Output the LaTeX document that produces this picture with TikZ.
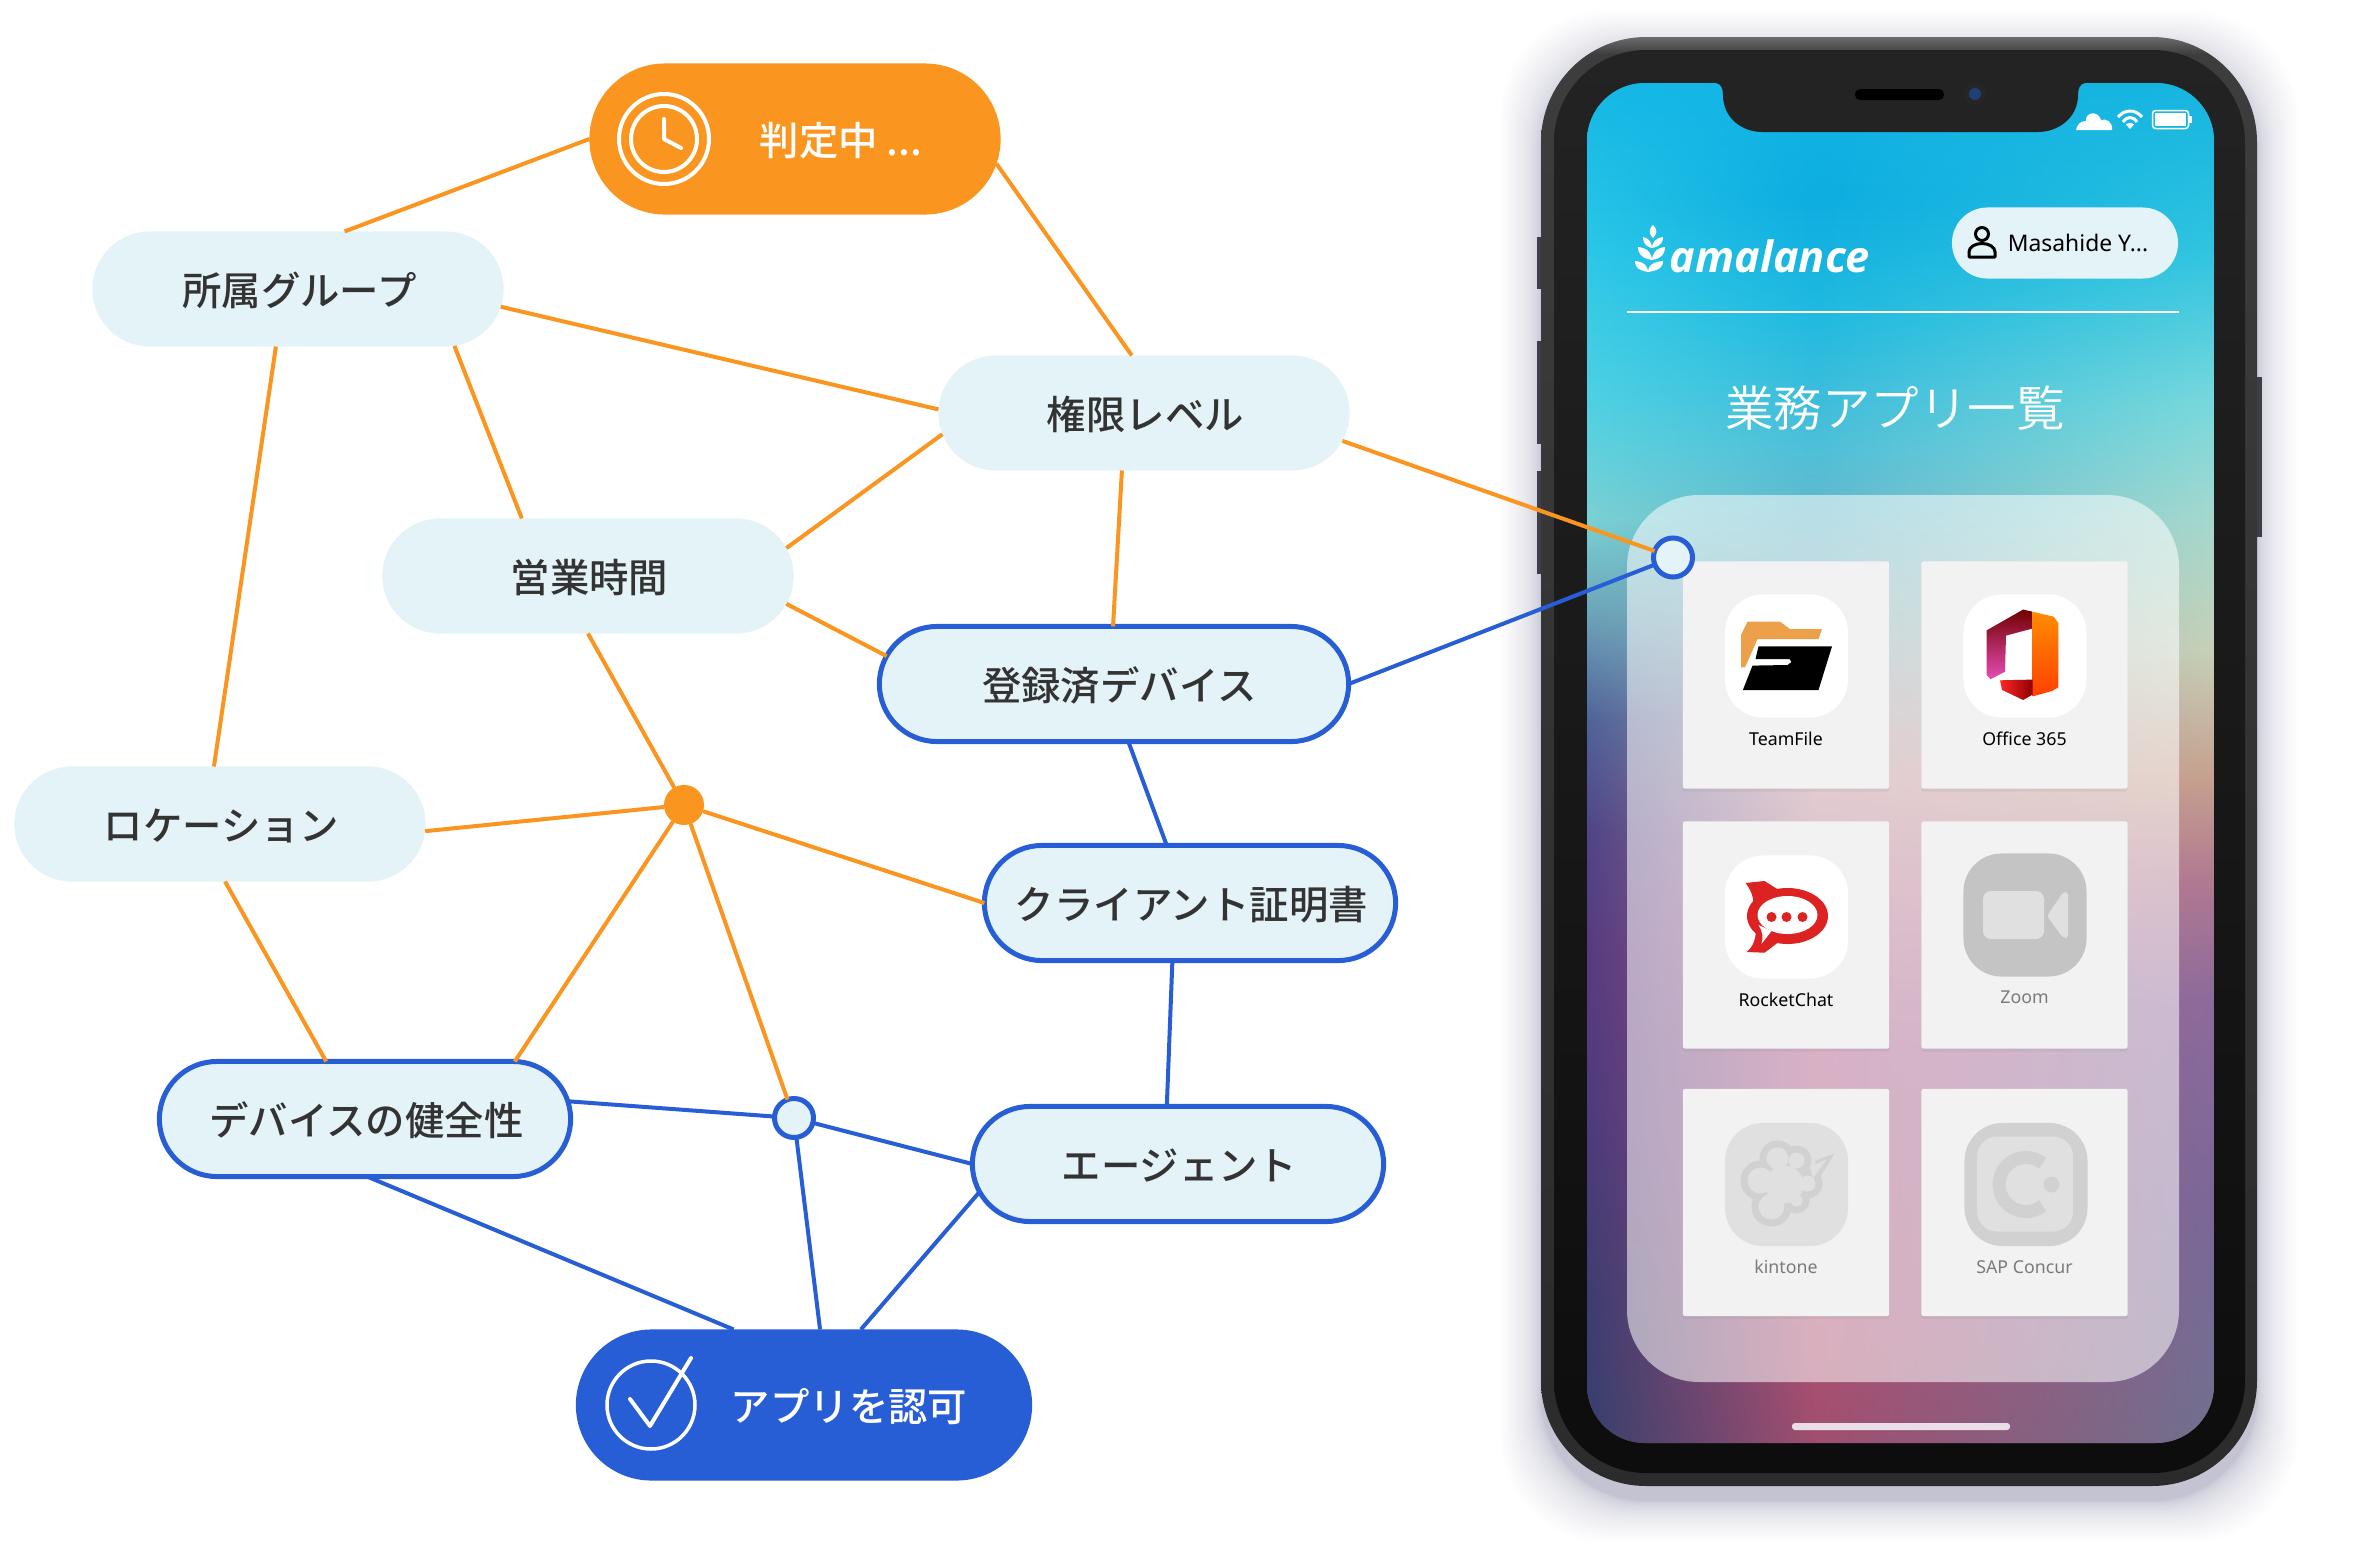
\documentclass[tikz,border=0pt]{standalone}
\usepackage{fontspec}
\setmainfont{Noto Sans}
\newfontfamily\jpfont{Noto Sans CJK JP Medium}
\newfontfamily\jplight{Noto Sans CJK JP DemiLight}
\newfontfamily\logofont{Open Sans}
\usetikzlibrary{shapes.misc,fadings,shadows}

\definecolor{pillorange}{HTML}{FA9520}
\definecolor{pillblue}{HTML}{275DD5}
\definecolor{pilllight}{HTML}{E4F3F8}
\definecolor{pilltext}{HTML}{333333}
\definecolor{bezeltop}{HTML}{232323}
\definecolor{bezellow}{HTML}{0D0D0D}
\definecolor{tilegray}{HTML}{F2F2F2}
\definecolor{sidegray}{HTML}{3E3E48}
\definecolor{folderorange}{HTML}{EDA04A}
\definecolor{rocketred}{HTML}{DD2222}
\definecolor{homebar}{HTML}{EADFE8}
\definecolor{cameralens}{HTML}{1F3F78}

\pgfdeclareverticalshading{screenmid}{100bp}{rgb(0bp)=(.63,.31,.44); rgb(25bp)=(.63,.31,.44); rgb(28.4bp)=(.68,.31,.44); rgb(39.5bp)=(.67,.33,.51); rgb(49.4bp)=(.75,.56,.60); rgb(56bp)=(.49,.68,.72); rgb(61.5bp)=(.31,.75,.85); rgb(66.3bp)=(.13,.73,.88); rgb(70.7bp)=(.05,.68,.88); rgb(75bp)=(.07,.71,.90); rgb(100bp)=(.07,.71,.90)}
\pgfdeclareverticalshading{screenleft}{100bp}{rgb(0bp)=(.21,.25,.43); rgb(25bp)=(.21,.25,.43); rgb(30.3bp)=(.24,.24,.44); rgb(37.6bp)=(.31,.23,.49); rgb(43.1bp)=(.34,.23,.50); rgb(47.5bp)=(.31,.27,.53); rgb(51.6bp)=(.31,.39,.60); rgb(55.3bp)=(.42,.63,.72); rgb(59bp)=(.48,.82,.83); rgb(63.3bp)=(.31,.82,.89); rgb(68.9bp)=(.17,.78,.91); rgb(75bp)=(.08,.72,.90); rgb(100bp)=(.08,.72,.90)}
\pgfdeclareverticalshading{screenright}{100bp}{rgb(0bp)=(.44,.44,.56); rgb(25bp)=(.44,.44,.56); rgb(33.9bp)=(.48,.41,.60); rgb(41.3bp)=(.55,.42,.61); rgb(45.7bp)=(.69,.48,.57); rgb(49.4bp)=(.78,.63,.56); rgb(54.2bp)=(.78,.82,.72); rgb(59bp)=(.65,.85,.81); rgb(63.3bp)=(.47,.85,.86); rgb(68.9bp)=(.19,.77,.88); rgb(75bp)=(.09,.71,.88); rgb(100bp)=(.09,.71,.88)}
\pgfdeclareverticalshading{phonebody}{100bp}{rgb(0bp)=(.17,.17,.17); rgb(25bp)=(.17,.17,.17); rgb(50bp)=(.20,.20,.20); rgb(74.4bp)=(.24,.24,.24); rgb(75bp)=(.42,.42,.42); rgb(100bp)=(.42,.42,.42)}
\tikzfading[name=fadetoright, left color=transparent!0, right color=transparent!100]
\tikzfading[name=fadetoleft, left color=transparent!100, right color=transparent!0]

\tikzset{
  pill/.style={rounded rectangle, minimum width=4.11cm, minimum height=1.15cm,
    inner sep=0pt, outer sep=0pt, fill=pilllight, text=pilltext, text height=11.5pt, text depth=2pt,
    font=\jpfont\fontsize{11.2}{13}\selectfont, execute at begin node=\hspace*{0.8pt}},
  pillring/.style={pill, draw=pillblue, line width=0.05cm},
  statuspill/.style={pill, minimum height=1.51cm, text=white},
  pilllabel/.style={text=white, inner sep=0pt, text height=11.5pt, text depth=2pt, font=\jpfont\fontsize{11.2}{13}\selectfont},
  hubdot/.style={circle, inner sep=0pt, outer sep=0pt, minimum size=0.4cm, fill=pillorange},
  hubring/.style={circle, inner sep=0pt, outer sep=0pt, minimum size=0.39cm, fill=pilllight, draw=pillblue, line width=0.05cm},
  orangeline/.style={draw=pillorange, line width=0.04cm},
  blueline/.style={draw=pillblue, line width=0.04cm},
  whiteline/.style={draw=white, line width=0.04cm, line cap=round, line join=round},
  tile/.style={rectangle, minimum width=2.06cm, minimum height=2.27cm, inner sep=0pt, rounded corners=0.02cm,
    fill=tilegray, drop shadow={shadow xshift=0cm, shadow yshift=-0.03cm, opacity=0.12}},
  iconbox/.style={rectangle, minimum size=1.23cm, inner sep=0pt, rounded corners=0.38cm, fill=white},
  applabel/.style={inner sep=0pt, text=black, font=\fontsize{5.05}{6}\selectfont},
  applabeloff/.style={applabel, text=black!52},
}

\begin{document}
\begin{tikzpicture}[x=0.01cm,y=-0.01cm]
  \useasboundingbox (0,0) rectangle (2368,1554);

  % phone
  \foreach \g in {1,...,30}
    \fill[black!75!blue, opacity=0.008, rounded corners=1.05cm]
      ({1541-\g*\g*0.045},{52-\g*\g*0.045}) rectangle ({2257+\g*\g*0.045},{1501+\g*\g*0.045});
  \fill[sidegray] (1537,237) rectangle (1545,289);
  \fill[sidegray] (1537,341) rectangle (1545,444);
  \fill[sidegray] (1537,471) rectangle (1545,574);
  \fill[sidegray] (2253,377) rectangle (2262,537);
  \shade[shading=phonebody, rounded corners=1.05cm] (1541,37) rectangle (2257,1486);
  \shade[top color=bezeltop, bottom color=bezellow, rounded corners=0.92cm] (1554,50) rectangle (2245,1473);
  \begin{scope}
    \clip[rounded corners=0.58cm] (1587,83) rectangle (2214,1443);
    \shade[shading=screenmid] (1587,83) rectangle (2214,1443);
    \shade[shading=screenleft, path fading=fadetoright] (1587,83) rectangle (1815,1443);
    \shade[shading=screenright, path fading=fadetoleft] (1815,83) rectangle (2214,1443);
  \end{scope}
  \fill[bezeltop] (1716,83) .. controls (1721,84) and (1723,88) .. (1723,95)
    .. controls (1723,118) and (1742,132) .. (1762,132) -- (2038,132)
    .. controls (2058,132) and (2078,118) .. (2078,95)
    .. controls (2078,88) and (2080,84) .. (2085,83) -- cycle;
  \fill[black, rounded corners=0.05cm] (1855,89) rectangle (1944,100);
  \fill[black!85] (1975,94) circle (11);
  \fill[cameralens] (1975,94) circle (6);
  \fill[homebar, rounded corners=0.03cm] (1792,1423) rectangle (2010,1430);

  % status bar
  \fill[white] (2076,130) -- (2112,130) .. controls (2113,122) and (2106,118) .. (2101,120)
    .. controls (2098,110) and (2085,112) .. (2086,121) .. controls (2080,121) and (2077,125) .. (2076,130) -- cycle;
  \draw[white, line width=0.03cm] (2118,117) .. controls (2125,109) and (2135,109) .. (2142,117);
  \draw[white, line width=0.03cm] (2123,122) .. controls (2127,116) and (2133,116) .. (2137,122);
  \fill[white] (2130,129) -- (2126,124.5) .. controls (2128,122.5) and (2132,122.5) .. (2134,124.5) -- cycle;
  \draw[white, line width=0.015cm, rounded corners=0.03cm] (2152.5,110.5) rectangle (2188.5,128.5);
  \fill[white] (2155,113) rectangle (2186,126);
  \fill[white] (2189,116) rectangle (2192,123);

  % logo and user
  \fill[white] (1653,225) .. controls (1658,230) and (1657,234) .. (1653,238) .. controls (1649,234) and (1648,230) .. (1653,225) -- cycle;
  \foreach \bx/\by/\lx/\rx/\ty in {1652/248/1643/1663/237,1652/260/1638/1665/247,1648/272/1635/1663/261}{
    \fill[white] (\bx,\by) .. controls ({\lx+1},{\by-2}) and (\lx,{\ty+4}) .. (\lx,\ty)
      .. controls ({\bx-3},{\ty+1}) and (\bx,{\by-5}) .. (\bx,\by) -- cycle;
    \fill[white] (\bx,\by) .. controls ({\rx-1},{\by-2}) and (\rx,{\ty+4}) .. (\rx,\ty)
      .. controls ({\bx+3},{\ty+1}) and (\bx,{\by-5}) .. (\bx,\by) -- cycle;
  }
  \node[inner sep=0pt, text=white, font=\logofont\bfseries\itshape\fontsize{12.3}{15}\selectfont] (logo) at (1770,256) {amalance};
  \node[rounded rectangle, minimum width=2.26cm, minimum height=0.71cm, inner sep=0pt, fill=pilllight] (userchip) at (2065,243) {};
  \draw[black, line width=0.03cm] (1982,234) circle (6.5);
  \draw[black, line width=0.03cm, line join=round] (1969,257) -- (1969,252) .. controls (1969,247) and (1975,243.5) .. (1982,243.5)
    .. controls (1989,243.5) and (1995,247) .. (1995,252) -- (1995,257) -- cycle;
  \node[inner sep=0pt, text=black, font=\fontsize{6.5}{8}\selectfont] (username) at (2078,243) {Masahide Y...};
  \draw[white, line width=0.025cm] (1627,312) -- (2179,312);
  \node[inner sep=0pt, text=white, font=\jplight\fontsize{13.8}{16}\selectfont] (listtitle) at (1895,408) {業務アプリ一覧};

  % app panel
  \fill[white, opacity=0.55, rounded corners=0.72cm] (1627,495) rectangle (2179,1382);
  \node[tile] (teamtile) at (1786,675) {};
  \node[tile] (officetile) at (2024.5,675) {};
  \node[tile] (rockettile) at (1786,935) {};
  \node[tile] (zoomtile) at (2024.5,935) {};
  \node[tile] (kintile) at (1786,1202.5) {};
  \node[tile] (saptile) at (2024.5,1202.5) {};
  \node[iconbox] (teamicon) at (1786.5,656) {};
  \node[iconbox] (officeicon) at (2025,656) {};
  \node[iconbox] (rocketicon) at (1786.5,917) {};
  \node[iconbox, fill=black!23] (zoomicon) at (2025,915) {};
  \node[iconbox, fill=black!12] (kinicon) at (1786.5,1184.5) {};
  \node[iconbox, fill=black!18] (sapicon) at (2026,1184.5) {};
  \node[applabel] (teamname) at (1786,739) {TeamFile};
  \node[applabel] (officename) at (2024.5,739) {Office 365};
  \node[applabel] (rocketname) at (1786,999.5) {RocketChat};
  \node[applabeloff] (zoomname) at (2024.5,997.5) {Zoom};
  \node[applabeloff] (kinname) at (1786,1267) {kintone};
  \node[applabeloff] (sapname) at (2024.5,1267) {SAP Concur};

  \begin{scope}[shift={(1786.5,656)}]
    \fill[folderorange] (-45.5,-21) -- (-39,-34.3) -- (-6.5,-34.3) -- (3.8,-26.8) -- (35.4,-26.8) -- (32,-17)
      -- (-29,-17) -- (-41.5,11.4) -- (-45.5,11.4) -- cycle;
    \fill[black] (-28,-9.6) -- (45.5,-9.6) -- (32,34) -- (-43.6,34) -- (-34,9.6) -- (1,9) -- (5,6) -- (3,3) -- (-31,3) -- cycle;
  \end{scope}
  \begin{scope}[shift={(2025,656)}]
    \shade[top color=red!45!black, middle color=red!70!black, bottom color=magenta!45!purple!70!white, line join=round]
      (-38.3,-25.7) -- (-1.9,-46.4) -- (7.6,-44.3) -- (7.6,-27.5) -- (-19,-20.4) -- (-20,15.7) -- (-34.4,23.2) -- (-38.3,19) -- cycle;
    \shade[top color=orange!90!yellow, middle color=orange!60!red, bottom color=orange!50!red]
      (7.6,-44.3) -- (28.7,-39.3) -- (33.3,-33) -- (33.3,31.4) -- (27,35) -- (7.6,40.4) -- cycle;
    \shade[left color=red!80!pink, right color=red!55!black]
      (-24.9,24.3) -- (7.6,23.6) -- (7.6,38.6) -- (-1.9,44) -- (-23,33.9) -- cycle;
  \end{scope}
  \begin{scope}[shift={(1786.5,917)}]
    \fill[rocketred] (-41,-34) -- (-22,-36) -- (-8.5,-27.5) -- (-33,-13) .. controls (-33,-20) and (-36,-28) .. (-41,-34) -- cycle;
    \fill[rocketred] (-40,35) -- (-22,35.7) -- (-6.5,24) -- (-31,12) .. controls (-30,20) and (-33,30) .. (-40,35) -- cycle;
    \fill[rocketred] (1,-1) ellipse (40.5 and 28);
    \fill[white] (1,-2) ellipse (30 and 19);
    \fill[white] (-28,8) -- (-15,14) -- (-25,27) .. controls (-23,20) and (-24,14) .. (-28,8) -- cycle;
    \fill[rocketred] (-15,0) circle (5) (0,0) circle (5) (16,0) circle (5);
  \end{scope}
  \begin{scope}[shift={(2025,915)}]
    \fill[black!12, rounded corners=0.08cm] (-42,-24) rectangle (19,24);
    \fill[black!12, rounded corners=0.03cm] (22,1) -- (38.3,-23) -- (43,-23) -- (43,23) -- (38.3,23) -- cycle;
  \end{scope}
  \begin{scope}[shift={(1786.5,1184.5)}]
    \fill[black!18] (29,-24) -- (48,-31) -- (28,2) -- cycle;
    \foreach \cx/\cy/\cr in {-9/-26/18,10/-24/15,-26/-4/20,-15/22/20,10/16/13,21/-1/15,-2/0/26}
      \fill[black!18] (\cx,\cy) circle (\cr);
    \foreach \cx/\cy/\cr in {-9/-26/11,10/-24/8,-26/-4/13,-15/22/13,10/16/6,21/-1/8,-2/0/19}
      \fill[black!12] (\cx,\cy) circle (\cr);
    \fill[black!12] (24,-18) -- (40,-25) -- (26,-6) -- cycle;
  \end{scope}
  \begin{scope}[shift={(2026,1184.5)}]
    \fill[black!12, rounded corners=0.2cm] (-49,-48) rectangle (47,47);
    \draw[black!18, line width=0.13cm] (52:27) arc (52:308:27);
    \fill[black!18] (25.5,0) circle (8);
  \end{scope}

  % graph
  \node[statuspill, fill=pillorange] (judge) at (795,139) {};
  \node[pill] (group) at (298,289) {所属グループ};
  \node[pill] (level) at (1144,413) {権限レベル};
  \node[pill] (hours) at (588,576) {営業時間};
  \node[pillring, minimum width=4.69cm, execute at begin node=\hspace*{2.3pt}] (regdev) at (1114,684) {登録済デバイス};
  \node[pillring] (cert) at (1190,903) {クライアント証明書};
  \node[pill] (location) at (220,824) {ロケーション};
  \node[pillring] (health) at (365,1119) {デバイスの健全性};
  \node[pillring] (agent) at (1178,1164) {エージェント};
  \node[statuspill, fill=pillblue, minimum width=4.56cm] (approve) at (804,1405) {};
  \node[pilllabel] (judgetext) at (841,139) {判定中 ...};
  \node[pilllabel] (approvetext) at (849,1405) {アプリを認可};
  \node[hubdot] (hub) at (684,805) {};
  \node[hubring] (midhub) at (794,1118) {};
  \node[hubring] (phonehub) at (1673,557.5) {};

  \draw[whiteline] (664,139) circle (45);
  \draw[whiteline] (664,139) circle (33);
  \draw[whiteline] (664,119) -- (664,139) -- (681,148);
  \draw[whiteline, line width=0.035cm] (651,1405) circle (44);
  \draw[whiteline] (630,1399) -- (650,1426) -- (691,1358);

  \begin{scope}[orangeline]
    \draw (judge.west) to (group.51);
    \draw (judge.-7) to (level.102);
    \draw (group.-5.6) to (level.179);
    \draw (group.-20) to (hours.139);
    \draw (group.249) to (location.96);
    \draw (level.186) to (hours.8);
    \draw (level.249) to (regdev.91);
    \draw (level.-8.6) to (phonehub);
    \draw (hours.-8) to (regdev.173);
    \draw (hours.south) to (hub);
    \draw (location.-2) to (hub);
    \draw (hub) to (cert.west);
    \draw (location.-85) to (health.124);
    \draw (health.21) to (hub);
    \draw (hub) to (midhub);
  \end{scope}
  \begin{scope}[blueline]
    \draw (regdev.east) to (phonehub);
    \draw (regdev.-76) to (cert.112);
    \draw (cert.253) to (agent.101);
    \draw (health.5) to (midhub);
    \draw (midhub) to (agent.west);
    \draw (midhub) to (approve.78);
    \draw (health.-88) to (approve.133);
    \draw (agent.188.6) to (approve.53);
  \end{scope}
\end{tikzpicture}
\end{document}
